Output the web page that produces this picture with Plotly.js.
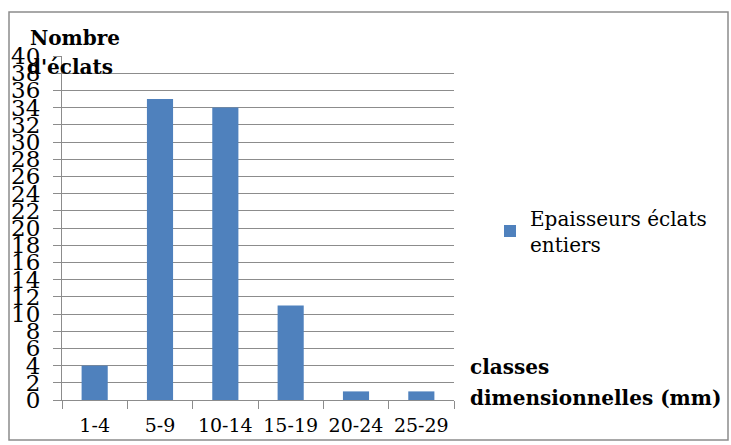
<!DOCTYPE html>
<html><head><meta charset="utf-8">
<script src="https://cdn.plot.ly/plotly-3.0.1.min.js"></script>
<style>body{margin:0;background:#fff}</style>
</head><body>
<div id="chart" style="width:731px;height:445px"></div>
<script>
const categories = ["1-4", "5-9", "10-14", "15-19", "20-24", "25-29"];
const counts = [4, 35, 34, 11, 1, 1];
const seriesName = "Epaisseurs éclats<br>entiers";
const yTicks = [0,2,4,6,8,10,12,14,16,18,20,22,24,26,28,30,32,34,36,38,40];

const L = 62, R = 454, T = 56, B = 400, W = 731, H = 445;
const px = x => (x - L) / (R - L);
const py = y => (B - y) / (B - T);

const serif = "DejaVu Serif";

Plotly.newPlot("chart", [{
  type: "bar",
  x: categories,
  y: counts,
  name: seriesName,
  marker: {color: "#4f81bd"},
  showlegend: true
}], {
  width: W, height: H,
  margin: {l: L, r: W - R, t: T, b: H - B, pad: 0},
  paper_bgcolor: "#fff",
  plot_bgcolor: "#fff",
  bargap: 0.6,
  font: {family: serif, color: "#000"},
  xaxis: {
    type: "category",
    showgrid: false,
    showline: true, linecolor: "#8c8c8c", linewidth: 1,
    ticks: "outside", ticklen: 8, tickcolor: "#8c8c8c",
    tickson: "boundaries",
    tickangle: 0,
    tickfont: {family: serif, size: 19, color: "#000"},
    ticklabelstandoff: 8
  },
  yaxis: {
    range: [0, 40],
    tickvals: yTicks,
    ticktext: yTicks.map(String),
    showgrid: true, gridcolor: "#8c8c8c", gridwidth: 1,
    showline: true, linecolor: "#8c8c8c", linewidth: 1,
    ticks: "outside", ticklen: 8, tickcolor: "#8c8c8c",
    tickfont: {family: serif, size: 23, color: "#000"},
    ticklabelstandoff: 8,
    zeroline: false,
    fixedrange: true
  },
  legend: {
    x: px(490), y: py(231), xanchor: "left", yanchor: "middle",
    font: {family: serif, size: 20, color: "#000"},
    bgcolor: "rgba(0,0,0,0)"
  },
  annotations: [
    {xref: "paper", yref: "paper", x: px(28), y: py(38), xanchor: "left", yanchor: "middle",
     text: "<b>Nombre</b>", showarrow: false, font: {family: serif, size: 20, color: "#000"}},
    {xref: "paper", yref: "paper", x: px(25), y: py(67), xanchor: "left", yanchor: "middle",
     text: "<b>d'éclats</b>", showarrow: false, font: {family: serif, size: 20, color: "#000"}},
    {xref: "paper", yref: "paper", x: px(468), y: py(367), xanchor: "left", yanchor: "middle",
     text: "<b>classes</b>", showarrow: false, font: {family: serif, size: 20, color: "#000"}},
    {xref: "paper", yref: "paper", x: px(468), y: py(398), xanchor: "left", yanchor: "middle",
     text: "<b>dimensionnelles (mm)</b>", showarrow: false, font: {family: serif, size: 20, color: "#000"}}
  ],
  shapes: [
    {type: "rect", xref: "paper", yref: "paper", x0: px(9), x1: px(728), y0: py(440), y1: py(12),
     line: {color: "#8c8c8c", width: 1.5}, fillcolor: "rgba(0,0,0,0)", layer: "below"}
  ]
}, {displayModeBar: false, staticPlot: true});
</script>
</body></html>
